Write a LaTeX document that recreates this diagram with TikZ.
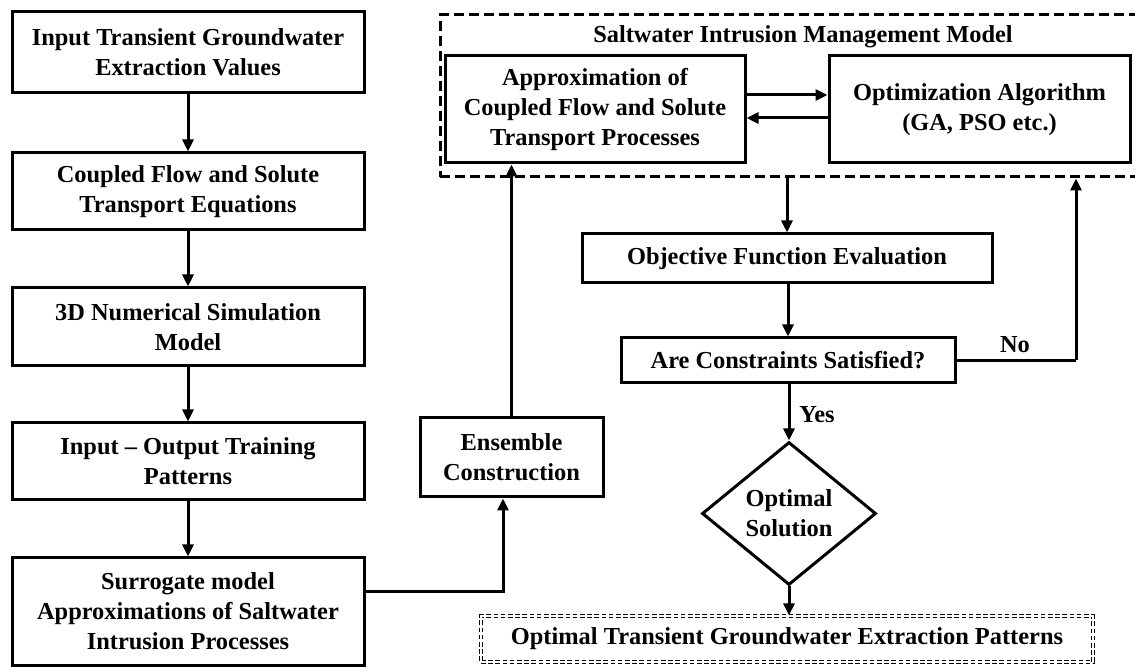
\documentclass[tikz,border=0pt]{standalone}
\usepackage{fontspec}
\setmainfont{Liberation Serif}
\usepackage{tikz}
\usetikzlibrary{shapes.geometric, arrows.meta, positioning, calc}
\tikzset{
  procbox/.style={rectangle, draw, line width=1.5pt, align=center,
    inner sep=2pt, font=\fontsize{12.2}{15}\selectfont\bfseries},
  decision/.style={diamond, draw, line width=1.5pt, align=center,
    inner sep=0pt, aspect=1.2, font=\fontsize{12.2}{15}\selectfont\bfseries},
  groupbox/.style={rectangle, draw, line width=1.5pt,
    dash pattern=on 5pt off 2.5pt},
  outbox/.style={rectangle, draw, line width=0.6pt, double,
    double distance=1pt, dash pattern=on 2.3pt off 1.3pt, align=center,
    font=\fontsize{12.2}{15}\selectfont\bfseries},
  lbl/.style={font=\fontsize{12.2}{15}\selectfont\bfseries, inner sep=1pt},
  arrow/.style={-{Triangle[length=6pt, width=5.5pt]}, line width=1.5pt},
  plain/.style={line width=1.5pt},
}
\begin{document}
\begin{tikzpicture}[x=0.5pt, y=-0.5pt]
  \useasboundingbox (0,0) rectangle (1135,667);
  % left column
  \node[procbox, minimum width=176pt, minimum height=40.5pt] (extr) at (188,52.5)
        {Input Transient Groundwater\\ Extraction Values};
  \node[procbox, minimum width=176pt, minimum height=38.5pt] (eqns) at (188,191.5)
        {Coupled Flow and Solute\\ Transport Equations};
  \node[procbox, minimum width=176pt, minimum height=39pt] (sim) at (188,327)
        {3D Numerical Simulation\\ Model};
  \node[procbox, minimum width=176pt, minimum height=38.5pt] (train) at (188,461.5)
        {Input -- Output Training\\ Patterns};
  \node[procbox, minimum width=176pt, minimum height=53.5pt] (surr) at (188,611.5)
        {Surrogate model\\ Approximations of Saltwater\\ Intrusion Processes};
  \node[procbox, minimum width=91.5pt, minimum height=39.5pt] (ens) at (511.5,457.5)
        {Ensemble\\ Construction};
  % management model
  \node[groupbox, minimum width=363pt, minimum height=81pt] (mgmt) at (803,96) {};
  \node[lbl] (mgmttitle) at (803,37) {Saltwater Intrusion Management Model};
  \node[procbox, minimum width=150pt, minimum height=53.5pt] (approx) at (595,109.5)
        {Approximation of\\ Coupled Flow and Solute\\ Transport Processes};
  \node[procbox, minimum width=150.5pt, minimum height=53.5pt] (optalg) at (979.5,109.5)
        {Optimization Algorithm\\ (GA, PSO etc.)};
  % right column
  \node[procbox, minimum width=205pt, minimum height=24.5pt] (obj) at (787,258.5)
        {Objective Function Evaluation};
  \node[procbox, minimum width=167pt, minimum height=22.5pt] (cons) at (788,360.5)
        {Are Constraints Satisfied?};
  \node[decision, minimum width=87pt, minimum height=71.5pt] (optsol) at (789,513.5)
        {Optimal\\ Solution};
  \node[outbox, minimum width=306pt, minimum height=23pt] (result) at (787,639)
        {Optimal Transient Groundwater Extraction Patterns};
  \node[lbl] (nolbl) at (1015,345) {No};
  \node[lbl] (yeslbl) at (817,415) {Yes};
  \coordinate (noturn) at (1076,360.5);

  \draw[arrow] (extr) -- (eqns);
  \draw[arrow] (eqns) -- (sim);
  \draw[arrow] (sim) -- (train);
  \draw[arrow] (train) -- (surr);
  \draw[arrow] ([yshift=9.75pt]surr.east) -| ([xshift=-4.25pt]ens.south);
  \draw[arrow] (ens.north) -- (ens.north |- approx.south);
  \draw[arrow] ([yshift=7.25pt]approx.east) -- ([yshift=7.25pt]optalg.west);
  \draw[arrow] ([yshift=-4.25pt]optalg.west) -- ([yshift=-4.25pt]approx.east);
  \draw[arrow] (mgmt.south -| obj.north) -- (obj.north);
  \draw[arrow] (obj.south -| cons.north) -- (cons.north);
  \draw[plain] (cons.east) -- (noturn);
  \draw[arrow] (noturn) -- (noturn |- mgmt.south);
  \draw[arrow] (cons.south -| optsol.north) -- (optsol.north);
  \draw[arrow] (optsol.south) -- (optsol.south |- result.north);
\end{tikzpicture}
\end{document}
